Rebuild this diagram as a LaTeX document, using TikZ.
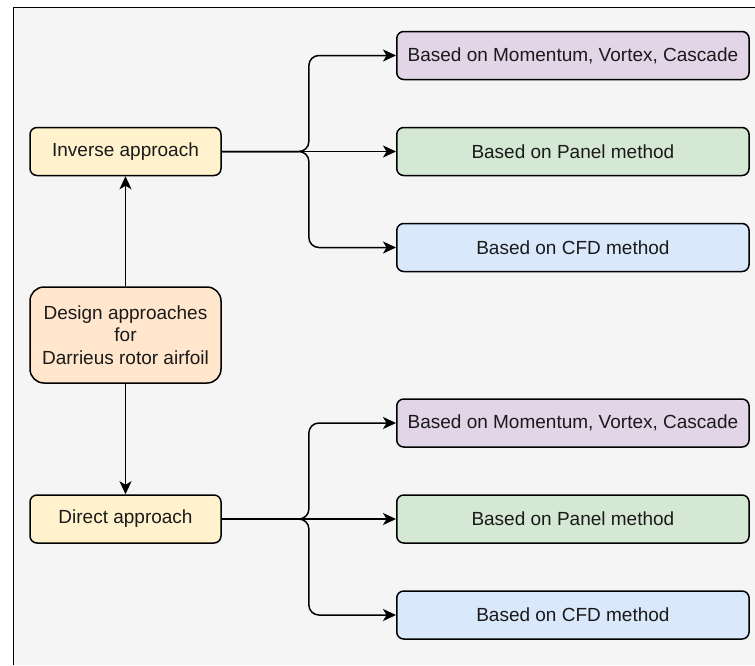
\documentclass[tikz,border=0pt]{standalone}
\usepackage{fontspec}
\setmainfont{Liberation Sans}
\usetikzlibrary{arrows.meta,calc}
\definecolor{bgc}{HTML}{F5F5F5}
\definecolor{yel}{HTML}{FFF2CC}
\definecolor{ora}{HTML}{FFE6CC}
\definecolor{pur}{HTML}{E1D5E7}
\definecolor{gre}{HTML}{D5E8D4}
\definecolor{blu}{HTML}{DAE8FC}
\definecolor{txt}{HTML}{1A1A1A}
\tikzset{
  box/.style={draw=black, line width=1.5pt, rounded corners=7pt, inner sep=0pt,
    minimum height=48pt, text=txt, font=\fontsize{19}{22.5}\selectfont, align=center},
  leftbox/.style={box, minimum width=191pt},
  rightbox/.style={box, minimum width=352.3pt},
  conn/.style={draw=black, line width=1.5pt, -{Stealth[length=13pt,width=12pt,inset=3.5pt]}},
  branch/.style={conn, rounded corners=10pt}
}
\begin{document}
\begin{tikzpicture}[x=1pt,y=-1pt]
\useasboundingbox (0,0) rectangle (755,665);
\fill[white] (0,0) rectangle (755,665);
\fill[bgc] (13.5,7.5) rectangle (755,665);
\draw[line width=1.5pt] (13.5,665) -- (13.5,7.5) -- (755,7.5);

\node[leftbox, fill=yel] (inv) at (125.5,151.5) {Inverse approach};
\node[leftbox, fill=ora, minimum height=96pt, rounded corners=14pt] (des) at (125.5,335) {Design approaches\\for\\Darrieus rotor airfoil};
\node[leftbox, fill=yel] (dir) at (125.5,519) {Direct approach};

\node[rightbox, fill=pur] (a1) at (572.9,55.5) {Based on Momentum, Vortex, Cascade};
\node[rightbox, fill=gre] (a2) at (572.9,151.5) {Based on Panel method};
\node[rightbox, fill=blu] (a3) at (572.9,247.5) {Based on CFD method};
\node[rightbox, fill=pur] (b1) at (572.9,423) {Based on Momentum, Vortex, Cascade};
\node[rightbox, fill=gre] (b2) at (572.9,519) {Based on Panel method};
\node[rightbox, fill=blu] (b3) at (572.9,615) {Based on CFD method};

\draw[conn] (des.north) -- (inv.south);
\draw[conn] (des.south) -- (dir.north);

\coordinate (im) at ($(inv.east)!0.5!(a2.west)$);
\coordinate (dm) at ($(dir.east)!0.5!(b2.west)$);
\draw[branch] (inv.east) -- (im) |- (a1.west);
\draw[conn] (inv.east) -- (a2.west);
\draw[branch] (inv.east) -- (im) |- (a3.west);
\draw[branch] (dir.east) -- (dm) |- (b1.west);
\draw[conn] (dir.east) -- (b2.west);
\draw[branch] (dir.east) -- (dm) |- (b3.west);
\end{tikzpicture}
\end{document}
